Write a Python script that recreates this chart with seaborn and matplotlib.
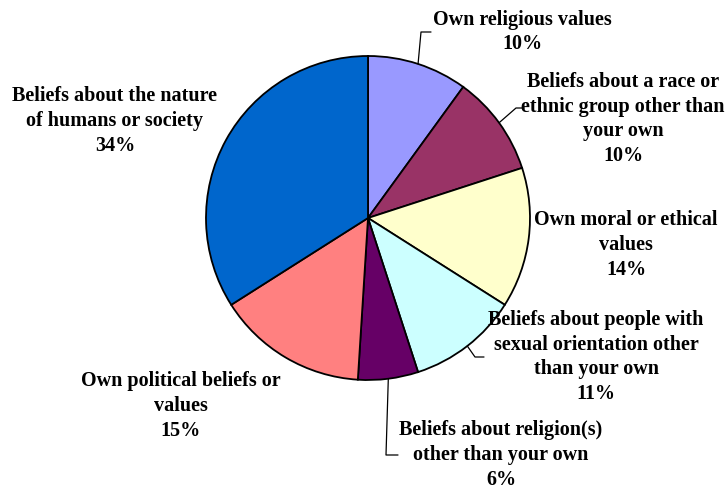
import numpy as np
import matplotlib
matplotlib.use("Agg")
import matplotlib.pyplot as plt
import seaborn as sns

sns.set_style("white")
plt.rcParams["font.family"] = ["Liberation Serif", "DejaVu Serif"]

# Share of responses per category (clockwise from 12 o'clock)
categories = [
    "Own religious values",
    "Beliefs about a race or\nethnic group other than\nyour own",
    "Own moral or ethical\nvalues",
    "Beliefs about people with\nsexual orientation other\nthan your own",
    "Beliefs about religion(s)\nother than your own",
    "Own political beliefs or\nvalues",
    "Beliefs about the nature\nof humans or society",
]
shares = [10, 10, 14, 11, 6, 15, 34]
colors = sns.color_palette(["#9999FF", "#993366", "#FFFFCC", "#CCFFFF",
                            "#660066", "#FF8080", "#0066CC"])

W, H = 727, 490
fig = plt.figure(figsize=(W / 100, H / 100), dpi=100)
ax = fig.add_axes([0, 0, 1, 1])

cx, cy, r = 368, H - 218, 162
wedges, _ = ax.pie(shares, colors=colors, startangle=90, counterclock=False,
                   center=(cx, cy), radius=r, frame=True,
                   wedgeprops=dict(edgecolor="black", linewidth=1.3))
ax.set_xlim(0, W)
ax.set_ylim(0, H)
ax.set_aspect("equal")
ax.axis("off")

# label centres (in pixel coordinates, y measured from the top)
label_pos = [(522, 32), (623, 119), (626, 245), (596, 357),
             (501, 455), (181, 406), (115, 121)]
# leader lines: elbow point and end point (None = no leader)
leaders = [((421, 32), (431, 32)),
           ((516, 108), (524, 108)),
           None,
           ((475, 357), (484, 357)),
           ((386, 455), (398, 455)),
           None,
           None]

for w, cat, val, pos, lead in zip(wedges, categories, shares, label_pos, leaders):
    ax.text(pos[0], H - pos[1], f"{cat}\n{val}%", ha="center", va="center",
            fontsize=14.5, fontweight="bold", linespacing=1.33, color="black")
    if lead is not None:
        mid = np.deg2rad((w.theta1 + w.theta2) / 2)
        sx, sy = cx + r * np.cos(mid), cy + r * np.sin(mid)
        (ex, ey), (tx, ty) = lead
        ax.plot([sx, ex, tx], [sy, H - ey, H - ty], color="black", lw=0.9)

fig.savefig("out.png", dpi=100)
